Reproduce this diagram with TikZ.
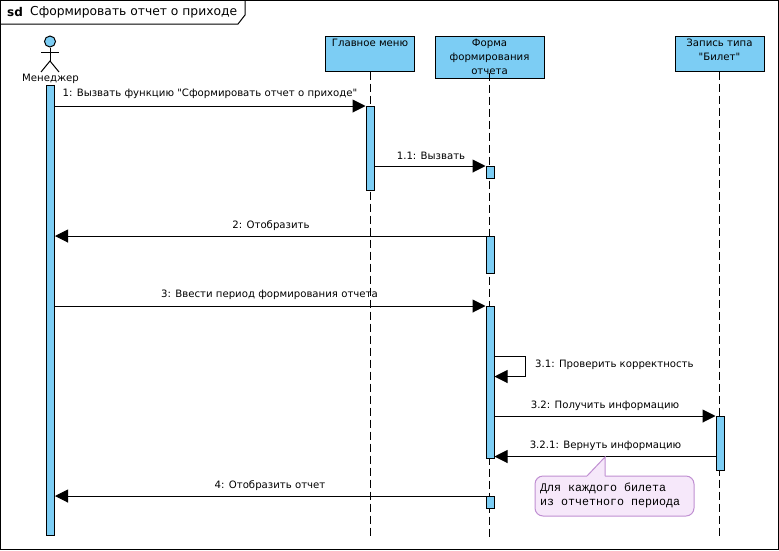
\documentclass[tikz,border=0pt]{standalone}
\usepackage{fontspec}
\setmainfont[Ligatures=TeXOff]{DejaVu Sans}
\setmonofont[Ligatures=TeXOff]{Liberation Mono}
\usetikzlibrary{arrows.meta}
\definecolor{boxblue}{HTML}{7CCDF4}
\definecolor{notefill}{HTML}{F6E8FA}
\definecolor{noteline}{HTML}{C08FD2}
\tikzset{
  lifebox/.style={draw,fill=boxblue,line width=1pt,inner sep=0pt,minimum width=89pt,minimum height=35pt},
  lifetext/.style={anchor=north,align=center,inner sep=0pt,yshift=-3.5pt},
  actbox/.style={draw,fill=boxblue,line width=1pt,inner sep=0pt,minimum width=8pt},
  lifeline/.style={line width=1pt,dash pattern=on 8pt off 4pt},
  msg/.style={line width=1pt,-{Triangle[length=13pt,width=13pt]}},
}
\begin{document}
\begin{tikzpicture}[x=1pt,y=-1pt,font=\fontsize{10.15}{14}\selectfont]
      \useasboundingbox (0,0) rectangle (779,550);
      % frame
      \draw[line width=1pt] (0.5,0.5) rectangle (778,549);
      \node at (7,12.5)[anchor=west,inner sep=0pt,font=\fontsize{12}{14}\selectfont\bfseries] (sdkey){sd};
      \node at (30,12.5)[anchor=west,inner sep=0pt,font=\fontsize{12.3}{14}\selectfont] (sdname){Сформировать отчет о приходе};
      \draw[line width=1pt] (0.5,24) -- (238,24) -- (245,15) -- (245,0.5);
      % actor
      \node at (50,41.5)[draw,shape=circle,fill=boxblue,line width=1pt,minimum size=11pt,inner sep=0pt] (head){};
      \coordinate (hip) at (50,61);
      \coordinate (armL) at (41,52);
      \coordinate (armR) at (59,52);
      \coordinate (legL) at (41,72);
      \coordinate (legR) at (59,72);
      \draw[line width=1pt] (head.south) -- (hip);
      \draw[line width=1pt] (armL) -- (armR);
      \draw[line width=1pt] (legL) -- (hip) -- (legR);
      \node at (50.5,79)[inner sep=0pt] (actor){Менеджер};
      % lifelines
      \node at (370,53.5)[lifebox,label={[lifetext]north:Главное меню}] (menu){};
      \node at (489.5,57)[lifebox,minimum width=109pt,minimum height=42pt] (form){};
      \node at (719.5,53.5)[lifebox,label={[lifetext]north:Запись типа\\"Билет"}] (rec){};
      \coordinate (menuEnd) at (370,537);
      \coordinate (formEnd) at (489.5,537);
      \coordinate (recEnd) at (719.5,537);
      \draw[lifeline] (menu.south) -- (menuEnd);
      \draw[lifeline] (rec.south) -- (recEnd);
      \node at (489.5,35.5)[lifetext] (formtext){Форма\\формирования\\отчета};
      \draw[lifeline] ([yshift=6pt]form.south) -- (formEnd);
      % activations
      \node at (50.5,310.5)[actbox,minimum height=450pt] (a0){};
      \node at (370,148.5)[actbox,minimum height=84pt] (m1){};
      \node at (490,172.5)[actbox,minimum height=12pt] (f1){};
      \node at (490,255)[actbox,minimum height=37pt] (f2){};
      \node at (490,382.5)[actbox,minimum height=152pt] (f3){};
      \node at (490,502.5)[actbox,minimum height=12pt] (f4){};
      \node at (720,443.5)[actbox,minimum height=54pt] (r1){};
      \coordinate (selfA) at (525.5,356.5);
      \coordinate (selfB) at (525.5,376.5);
      \coordinate (back) at (716,456.5);
      % messages
      \draw[msg] (a0.east |- m1.north) -- (m1.north west);
      \draw[msg] (m1.east |- f1.north) -- (f1.north west);
      \draw[msg] (f2.north west) -- (a0.east |- f2.north);
      \draw[msg] (a0.east |- f3.north) -- (f3.north west);
      \draw[msg] (f3.east |- selfA) -- (selfA) -- (selfB) -- (f3.east |- selfB);
      \draw[msg] (f3.east |- r1.north) -- (r1.north west);
      \draw[msg] (back) -- (f3.east |- back);
      \draw[msg] (f4.north west) -- (a0.east |- f4.north);
      % labels
      \node at (210,93.5)[inner sep=0pt] (t1){1: Вызвать функцию "Сформировать отчет о приходе"};
      \node at (431,155.5)[inner sep=0pt] (t11){1.1: Вызвать};
      \node at (271,225.5)[inner sep=0pt] (t2){2: Отобразить};
      \node at (269.5,294.5)[inner sep=0pt] (t3){3: Ввести период формирования отчета};
      \node at (535,364.5)[anchor=west,inner sep=0pt] (t31){3.1: Проверить корректность};
      \node at (605,405.5)[inner sep=0pt] (t32){3.2: Получить информацию};
      \node at (605.5,445.5)[inner sep=0pt] (t321){3.2.1: Вернуть информацию};
      \node at (270,485.5)[inner sep=0pt] (t4){4: Отобразить отчет};
      % note
      \node at (614.5,496)[draw=noteline,fill=notefill,line width=1pt,rounded corners=8pt,minimum width=159pt,minimum height=40pt,inner sep=0pt] (note){};
      \coordinate (tip) at (605,457);
      \coordinate (baseL) at (587,476);
      \coordinate (baseR) at (605,476);
      \fill[notefill] (baseL) -- (tip) -- (baseR) -- ([yshift=-1pt]baseR) -- ([yshift=-1pt]baseL) -- cycle;
      \draw[noteline,line width=1pt] (baseL) -- (tip) -- (baseR);
      \node at (540,495.5)[anchor=west,align=left,inner sep=0pt,font=\ttfamily\fontsize{11.67}{14}\selectfont] (notetext){Для каждого билета\\из отчетного периода};
\end{tikzpicture}
\end{document}
